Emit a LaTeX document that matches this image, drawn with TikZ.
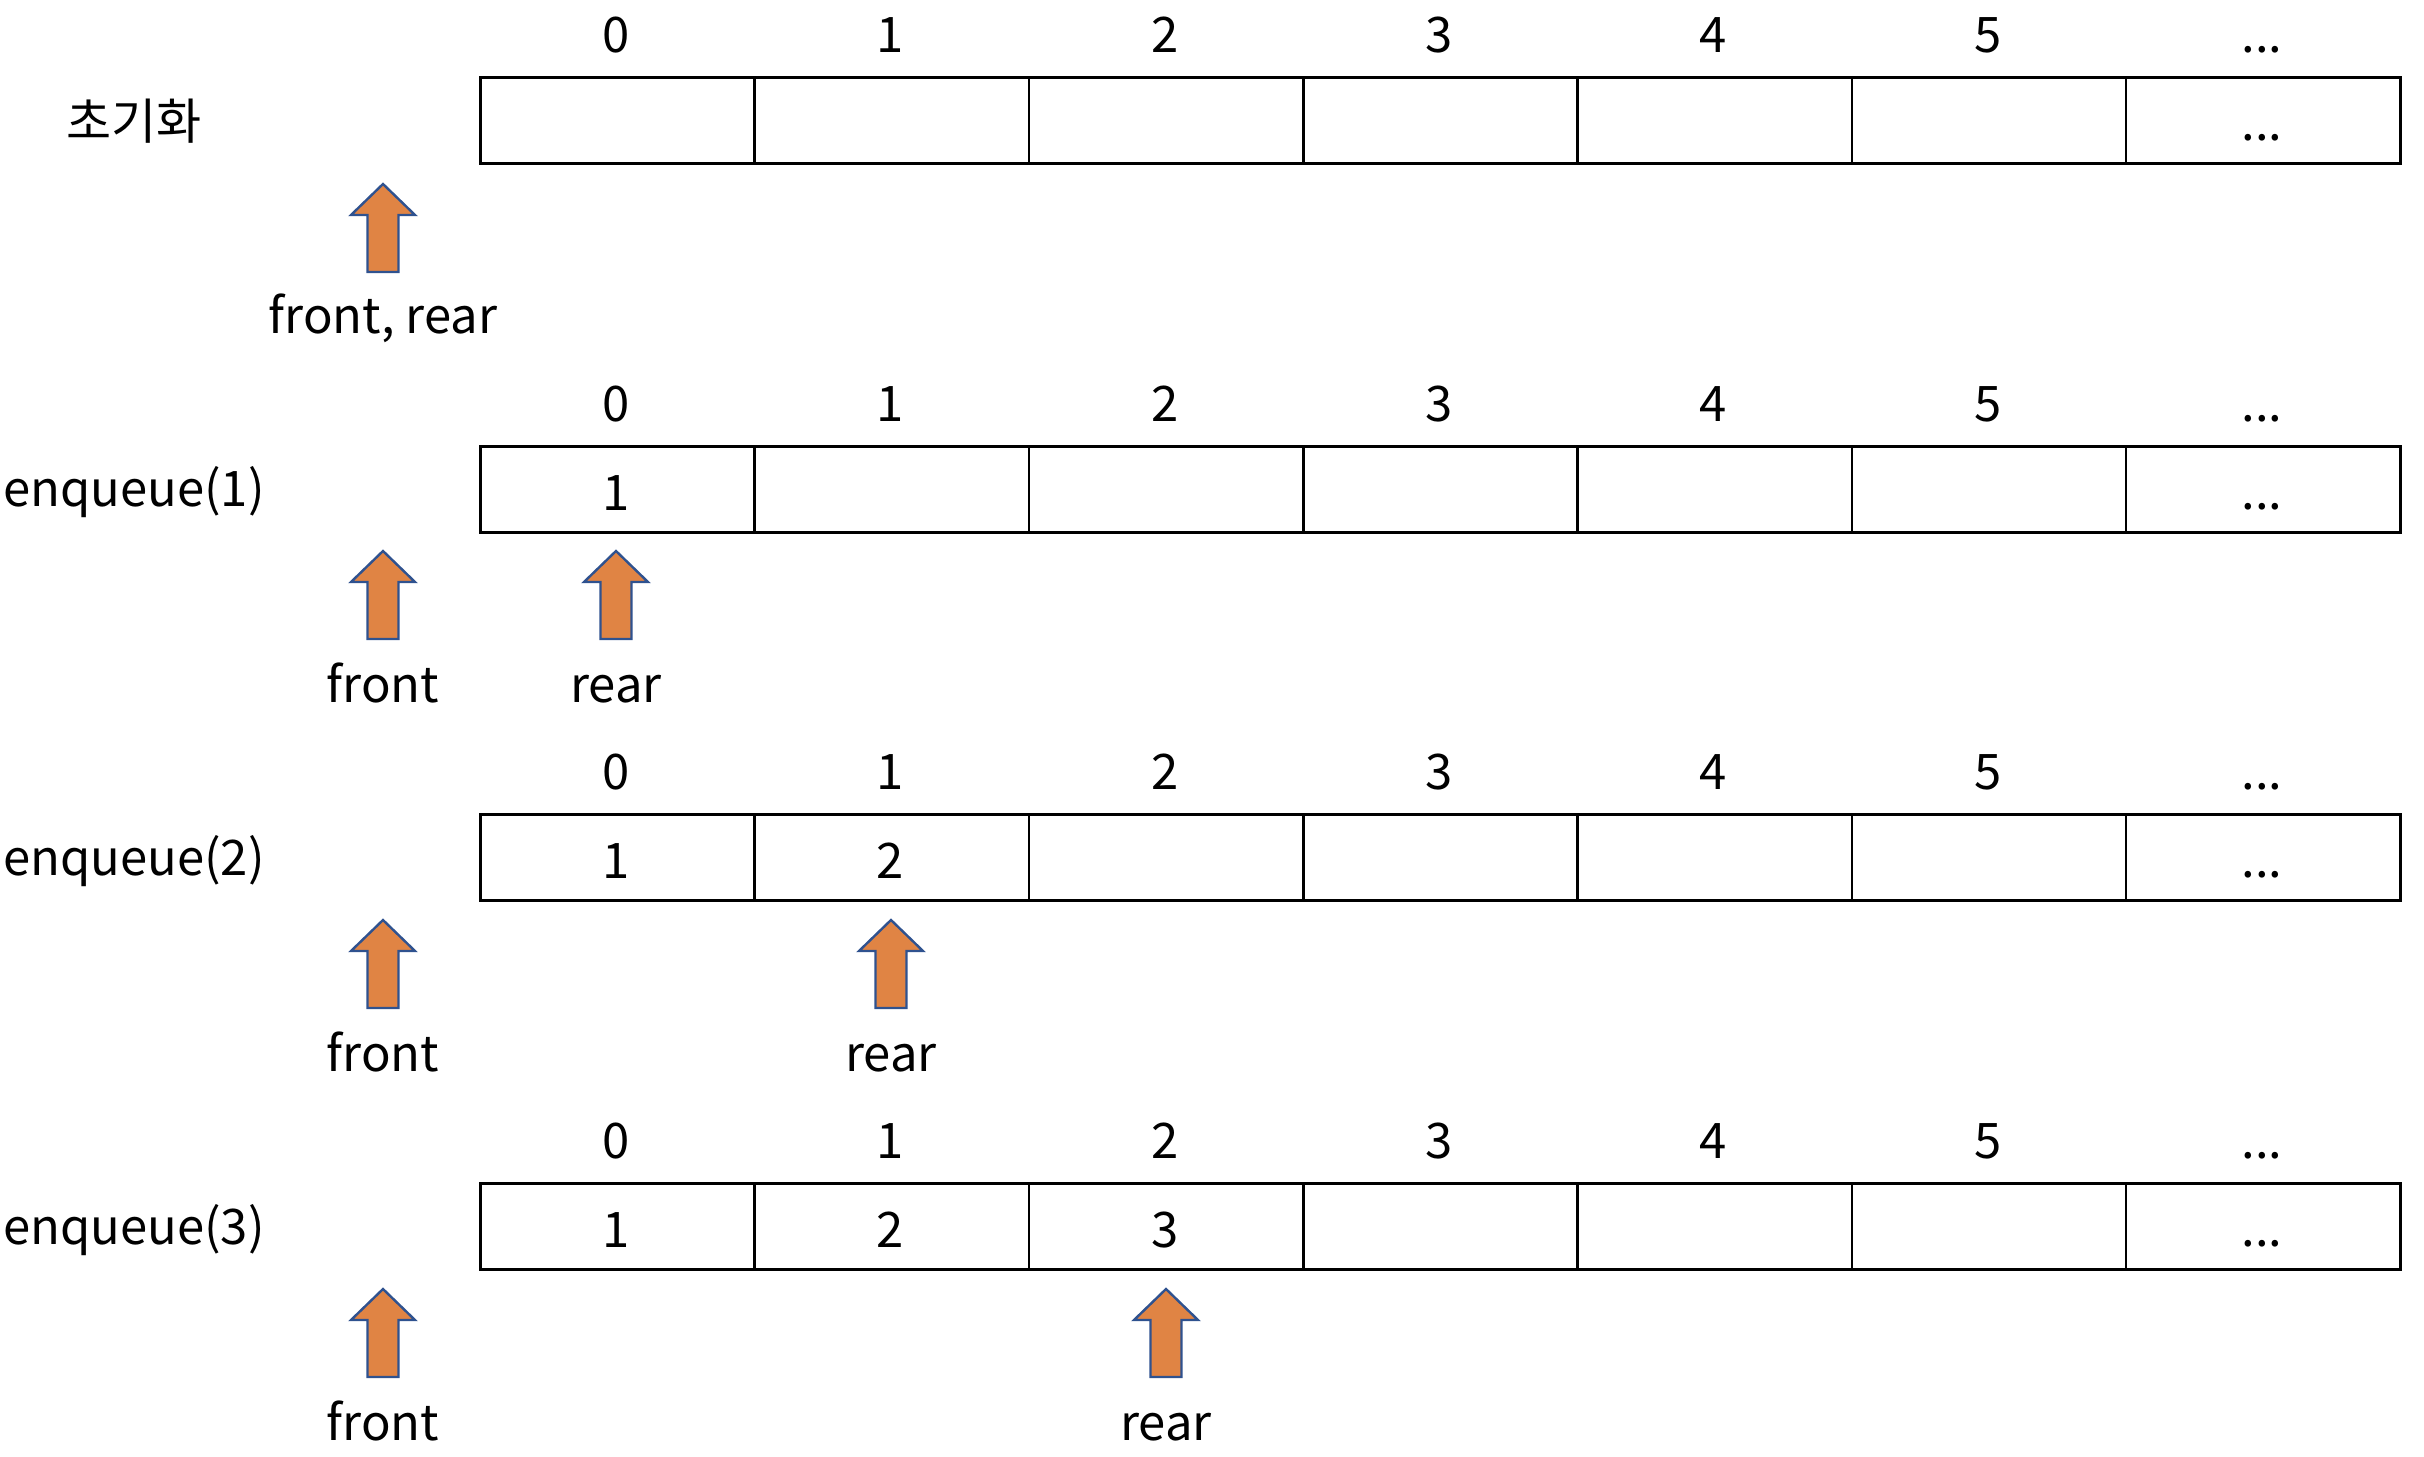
\documentclass[tikz,border=0pt]{standalone}
\usepackage{fontspec}
\setmainfont{Noto Sans CJK KR}
\definecolor{arrfill}{RGB}{224,132,68}
\definecolor{arrline}{RGB}{47,82,143}
\newcommand\qdots{.\kern0pt.\kern0pt.}
\newcommand\qarray[2]{%
  \foreach \i in {0,...,6}{%
    \node[cell] (c#1\i) at ({479+274.3*\i},#2) {};
  }%
  \foreach \t [count=\i from 0] in {0,1,2,3,4,5,\qdots}{%
    \node[txt,anchor=base] (i#1\i) at ({479+274.3*\i+137.15},{#2-24}) {\t};
  }%
  \node[txt,anchor=base] (e#1) at ({479+274.3*6+137.15},{#2+64}) {\qdots};
}
\newcommand\qval[4]{% row, cell, top, value
  \node[txt,anchor=base] (v#1#2) at ({479+274.3*#2+137.15},{#3+65}) {#4};
}
\begin{document}
\begin{tikzpicture}[x=1pt,y=-1pt,
  cell/.style={draw, line width=2.6pt, minimum width=274.3pt, minimum height=86pt, inner sep=0pt, anchor=north west},
  txt/.style={font=\fontsize{49}{58}\selectfont, inner sep=0pt},
  uparrow/.pic={\draw[fill=arrfill, draw=arrline, line width=2.4pt, line join=miter]
     (0,0) -- (32,31) -- (15.5,31) -- (15.5,88) -- (-15.5,88) -- (-15.5,31) -- (-32,31) -- cycle;}]
\useasboundingbox (0,0) rectangle (2424,1456);
% row 0
\qarray{a}{76}
\node[txt] (la) at (134,121) {초기화};
\pic at (383,184) {uparrow};
\node[txt,anchor=base] (fa) at (383,333) {front, rear};
% row 1
\qarray{b}{445}
\qval{b}{0}{445}{1}
\node[txt] (lb) at (134,492) {enqueue(1)};
\pic at (383,551) {uparrow};
\node[txt,anchor=base] (fb) at (383,702) {front};
\pic at (616,551) {uparrow};
\node[txt,anchor=base] (rb) at (616,702) {rear};
% row 2
\qarray{c}{813}
\qval{c}{0}{813}{1}
\qval{c}{1}{813}{2}
\node[txt] (lc) at (134,861) {enqueue(2)};
\pic at (383,920) {uparrow};
\node[txt,anchor=base] (fc) at (383,1071) {front};
\pic at (891,920) {uparrow};
\node[txt,anchor=base] (rc) at (891,1071) {rear};
% row 3
\qarray{d}{1182}
\qval{d}{0}{1182}{1}
\qval{d}{1}{1182}{2}
\qval{d}{2}{1182}{3}
\node[txt] (ld) at (134,1230) {enqueue(3)};
\pic at (383,1289) {uparrow};
\node[txt,anchor=base] (fd) at (383,1440) {front};
\pic at (1166,1289) {uparrow};
\node[txt,anchor=base] (rd) at (1166,1440) {rear};
\end{tikzpicture}
\end{document}
